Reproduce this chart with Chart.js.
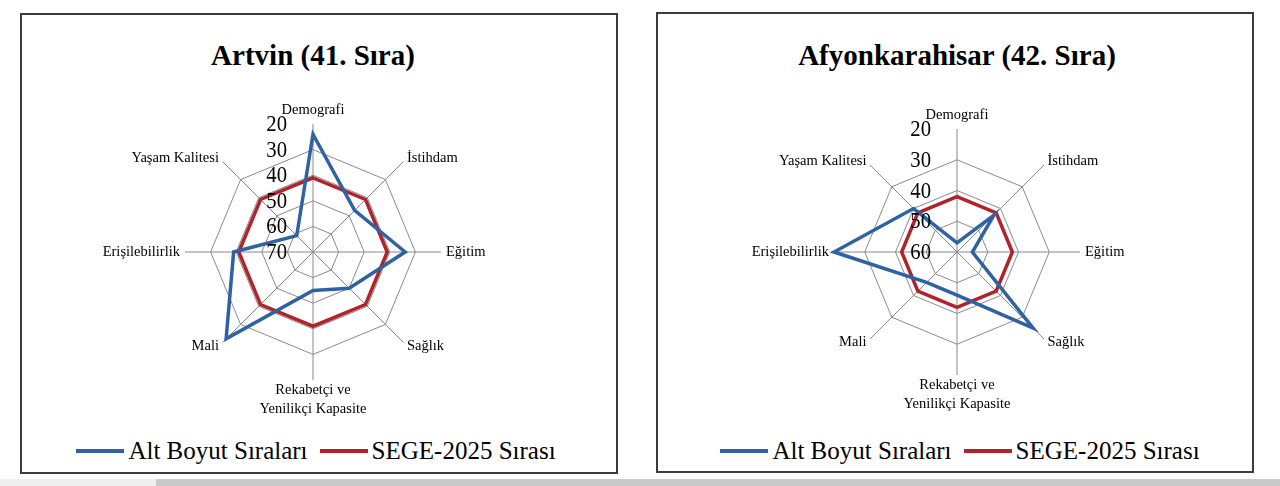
<!DOCTYPE html>
<html>
<head>
<meta charset="utf-8">
<script src="https://cdn.jsdelivr.net/npm/chart.js@4.4.1/dist/chart.umd.min.js"></script>
<style>
html, body { margin: 0; padding: 0; background: #fff; width: 1280px; height: 486px; overflow: hidden; font-family: "Liberation Serif", "Times New Roman", serif; color: #000; }
.box { position: absolute; border: 2px solid #3c3c3c; box-sizing: border-box; background: #fff; }
.title { position: absolute; width: 600px; text-align: center; font-weight: bold; font-size: 29px; line-height: 34px; white-space: nowrap; }
.cv { position: absolute; }
.legend { position: absolute; width: 600px; display: flex; justify-content: center; align-items: center; font-size: 25px; line-height: 30px; white-space: nowrap; }
.legend .item { display: flex; align-items: center; margin: 0 6px; }
.legend .swatch { width: 48px; height: 4px; margin-right: 4px; }
.bar { position: absolute; top: 479px; height: 7px; }
</style>
</head>
<body>
<div class="box" style="left:20px;top:13px;width:598px;height:461px;"></div>
<div class="box" style="left:656px;top:12px;width:598px;height:461px;"></div>

<div class="title" style="left:13px;top:38px;">Artvin (41. Sıra)</div>
<div class="title" style="left:657px;top:38px;">Afyonkarahisar (42. Sıra)</div>

<canvas id="artvin" class="cv" width="595" height="340" style="left:21px;top:80px;width:595px;height:340px;"></canvas>
<canvas id="afyon" class="cv" width="595" height="340" style="left:657px;top:80px;width:595px;height:340px;"></canvas>

<div id="legArtvin" class="legend" style="left:16px;top:436px;"></div>
<div id="legAfyon" class="legend" style="left:660px;top:436px;"></div>

<div class="bar" style="left:0;width:156px;background:#efefef;"></div>
<div class="bar" style="left:156px;width:1124px;background:#cacaca;"></div>

<script>
// categories (clockwise from top)
const categories = ['Demografi', 'İstihdam', 'Eğitim', 'Sağlık',
    ['Rekabetçi ve', 'Yenilikçi Kapasite'], 'Mali', 'Erişilebilirlik', 'Yaşam Kalitesi'];

// Artvin
const artvinAlt = [24, 47, 34, 50, 55, 22, 39, 61];
const artvinSege = [41, 41, 41, 41, 41, 41, 41, 41];
const artvinTicks = [20, 30, 40, 50, 60, 70];

// Afyonkarahisar
const afyonAlt = [57, 43, 55, 25, 46, 46, 20, 40];
const afyonSege = [42, 42, 42, 42, 42, 42, 42, 42];
const afyonTicks = [20, 30, 40, 50, 60];

const seriesNames = ['Alt Boyut Sıraları', 'SEGE-2025 Sırası'];
const blue = '#2E62A3';
const red = '#B0232A';

// draws the category names and the rank numbers the way the original sheet does
const radarText = {
    id: 'radarText',
    afterDatasetsDraw(chart, args, opts) {
        const s = chart.scales.r;
        const ctx = chart.ctx;
        const n = chart.data.labels.length;
        ctx.save();
        ctx.fillStyle = '#000';
        ctx.font = '14.5px "Liberation Serif"';
        chart.data.labels.forEach(function (lab, i) {
            const lines = [].concat(lab);
            const deg = i * 360 / n;
            if (deg === 0) {
                const p = s.getPointPosition(i, s.drawingArea + 14);
                ctx.textAlign = 'center';
                ctx.textBaseline = 'middle';
                ctx.fillText(lines[0], p.x, p.y);
            } else if (deg === 180) {
                const p = s.getPointPosition(i, s.drawingArea);
                ctx.textAlign = 'center';
                ctx.textBaseline = 'middle';
                lines.forEach(function (t, k) { ctx.fillText(t, p.x, p.y + 10 + k * 19); });
            } else {
                const p = s.getPointPosition(i, s.drawingArea + 5);
                ctx.textAlign = deg < 180 ? 'left' : 'right';
                ctx.textBaseline = 'middle';
                ctx.fillText(lines[0], p.x, p.y);
            }
        });
        // rank numbers, a bit narrow like the source font
        ctx.font = '23px "Liberation Serif"';
        ctx.textAlign = 'right';
        ctx.textBaseline = 'middle';
        opts.ticks.forEach(function (v) {
            const d = s.getDistanceFromCenterForValue(v);
            ctx.save();
            ctx.translate(s.xCenter - 26, s.yCenter - d);
            ctx.scale(0.9, 1);
            ctx.fillText(String(v), 0, 1);
            ctx.restore();
        });
        ctx.restore();
    }
};

function makeChart(id, alt, sege, ticks, pad) {
    return new Chart(document.getElementById(id), {
        type: 'radar',
        data: {
            labels: categories,
            datasets: [
                { label: seriesNames[0], data: alt, borderColor: blue, backgroundColor: 'transparent',
                  borderWidth: 3.5, pointRadius: 0, fill: false },
                { label: seriesNames[1], data: sege, borderColor: red, backgroundColor: 'transparent',
                  borderWidth: 3.5, pointRadius: 0, fill: false }
            ]
        },
        options: {
            responsive: false,
            animation: false,
            layout: { padding: pad },
            plugins: {
                legend: { display: false },
                title: { display: false },
                tooltip: { enabled: false },
                radarText: { ticks: ticks }
            },
            scales: {
                r: {
                    min: ticks[0],
                    max: ticks[ticks.length - 1],
                    reverse: true,
                    ticks: { display: false, stepSize: 10 },
                    // outer ring is the smallest rank, so flip order to keep it drawn
                    afterBuildTicks: function (scale) { scale.ticks.reverse(); },
                    pointLabels: { display: false },
                    grid: { color: '#8a8a8a', lineWidth: 1 },
                    angleLines: { color: '#8a8a8a', lineWidth: 1 }
                }
            }
        },
        plugins: [radarText]
    });
}

function buildLegend(chart, elId) {
    const el = document.getElementById(elId);
    chart.data.datasets.forEach(function (ds) {
        const item = document.createElement('div');
        item.className = 'item';
        const sw = document.createElement('span');
        sw.className = 'swatch';
        sw.style.background = ds.borderColor;
        const tx = document.createElement('span');
        tx.textContent = ds.label;
        item.appendChild(sw);
        item.appendChild(tx);
        el.appendChild(item);
    });
}

const c1 = makeChart('artvin', artvinAlt, artvinSege, artvinTicks, { left: 164, right: 175, top: 44, bottom: 40 });
const c2 = makeChart('afyon', afyonAlt, afyonSege, afyonTicks, { left: 177, right: 172, top: 49, bottom: 45 });
buildLegend(c1, 'legArtvin');
buildLegend(c2, 'legAfyon');
</script>
</body>
</html>
